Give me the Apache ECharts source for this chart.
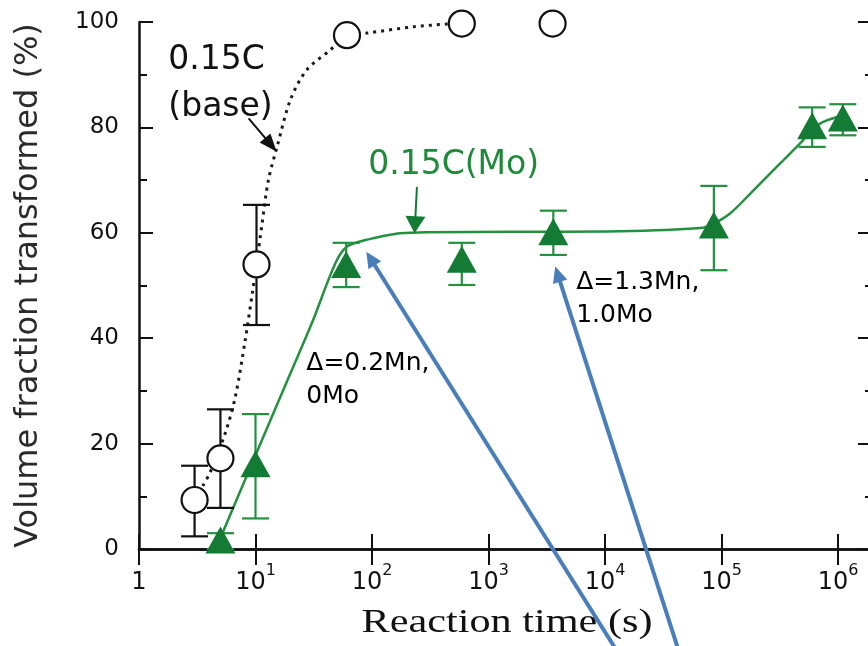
<!DOCTYPE html>
<html>
<head>
<meta charset="utf-8">
<script src="https://cdn.jsdelivr.net/npm/echarts@6/dist/echarts.min.js"></script>
<style>
  html, body { margin: 0; padding: 0; background: #fff; }
  #chart { width: 868px; height: 646px; }
</style>
</head>
<body>
<div id="chart"></div>
<script>
// ---- measured data: 0.15C (base), open circles ----
const baseTime = [3, 5, 10.2, 61, 590, 3550];
const baseFrac = [9.3, 17.2, 54, 97.5, 99.7, 99.7];
const baseErrLow = [2.4, 7.8, 42.5, null, null, null];
const baseErrHigh = [15.8, 26.5, 65.3, null, null, null];

// ---- measured data: 0.15C (Mo), filled triangles ----
const moTime = [5, 10, 60, 590, 3600, 86000, 600000, 1100000];
const moFrac = [1.7, 16.2, 54, 55, 60.2, 61.5, 80.3, 81.8];
const moErrLow = [0, 5.8, 49.7, 50.1, 55.8, 52.9, 76.3, 78.5];
const moErrHigh = [3, 25.6, 58.1, 58.1, 64.2, 68.9, 83.8, 84.4];

// ---- fitted curves ----
const baseFitTime = [3.0, 3.56, 4.09, 5.5, 6.7, 8.17, 9.4, 10.2, 11.4, 12.9, 15.4, 19.9, 27.5, 43.9, 61, 90.6, 228, 441, 590];
const baseFitFrac = [9.3, 12.1, 14.6, 22, 28.8, 39.7, 48.6, 54, 61.8, 70, 76.5, 85.2, 90.9, 94.7, 97.5, 97.9, 99.1, 99.6, 99.7];
const moFitTime = [4.56, 10, 18.8, 31.3, 41.3, 51, 61, 75, 91, 120, 175, 300, 1620, 13500, 66000, 85000, 119000, 189000, 320000, 475000, 600000, 740000, 1110000];
const moFitFrac = [0, 17.8, 32, 43.5, 50.5, 55.2, 57.4, 58.2, 58.7, 59.3, 59.9, 60.1, 60.2, 60.3, 60.9, 61.7, 63.7, 68.1, 73.2, 77, 79.5, 81, 82.3];

// ---- axis ticks ----
const xTickExponents = [0, 1, 2, 3, 4, 5, 6];
const yTicks = [0, 20, 40, 60, 80, 100];

// ---- colours and fonts ----
const GREEN_MARK = '#137b34';
const GREEN_LINE = '#23913f';
const GREEN_TEXT = '#1e8a3a';
const BLUE = '#4a7ebb';
const INK = '#111111';
const SANS = '"DejaVu Sans", "Liberation Sans", sans-serif';

// ---- annotations (anchor points in data units: [time, fraction]) ----
const notes = [
  { text: '0.15C\n(base)', at: [1.785, 88.3], color: INK, size: 33, lh: 47, align: 'left' },
  { text: '0.15C(Mo)', at: [502, 72.7], color: GREEN_TEXT, size: 33, lh: 40, align: 'center' },
  { text: '\u0394=0.2Mn,\n0Mo', at: [27.3, 32], color: '#000', size: 25, lh: 33, align: 'left' },
  { text: '\u0394=1.3Mn,\n1.0Mo', at: [5660, 47.4], color: '#000', size: 25, lh: 33, align: 'left' }
];
const blueArrows = [[14100, -21, 89.4, 56.4], [45400, -21, 3740, 53.6]];
const baseArrow = [[8.73, 81.7, 15.2, 75.4]];
const moArrow = [[243, 68.7, 232, 59.9]];

const zip = (a, b) => a.map((v, i) => [v, b[i]]);
const errRows = (t, lo, hi) => t.map((v, i) => [v, lo[i], hi[i]]).filter(r => r[1] != null);

function errorBarItem(color) {
  return function (params, api) {
    const x = api.value(0);
    const top = api.coord([x, api.value(2)]);
    const bot = api.coord([x, api.value(1)]);
    const half = 13.5;
    const st = { stroke: color, lineWidth: 2.2 };
    return {
      type: 'group',
      children: [
        { type: 'line', shape: { x1: top[0], y1: top[1], x2: bot[0], y2: bot[1] }, style: st },
        { type: 'line', shape: { x1: top[0] - half, y1: top[1], x2: top[0] + half, y2: top[1] }, style: st },
        { type: 'line', shape: { x1: bot[0] - half, y1: bot[1], x2: bot[0] + half, y2: bot[1] }, style: st }
      ]
    };
  };
}

function arrowItem(color, width, headLen, headWid) {
  return function (params, api) {
    const p0 = api.coord([api.value(0), api.value(1)]);
    const p1 = api.coord([api.value(2), api.value(3)]);
    const dx = p1[0] - p0[0], dy = p1[1] - p0[1];
    const len = Math.hypot(dx, dy) || 1;
    const ux = dx / len, uy = dy / len;
    const bx = p1[0] - ux * headLen, by = p1[1] - uy * headLen;
    const nx = -uy * headWid / 2, ny = ux * headWid / 2;
    return {
      type: 'group',
      children: [
        { type: 'line', shape: { x1: p0[0], y1: p0[1], x2: bx + ux, y2: by + uy }, style: { stroke: color, lineWidth: width } },
        { type: 'polygon', shape: { points: [[p1[0], p1[1]], [bx + nx, by + ny], [bx - nx, by - ny]] }, style: { fill: color } }
      ]
    };
  };
}

function noteItem(params, api) {
  const n = notes[params.dataIndex];
  const p = api.coord([api.value(0), api.value(1)]);
  return {
    type: 'text',
    x: p[0], y: p[1],
    style: {
      text: n.text,
      fill: n.color,
      fontSize: n.size,
      fontFamily: SANS,
      lineHeight: n.lh,
      align: n.align,
      verticalAlign: 'middle'
    }
  };
}

function xLabel(v) {
  const e = Math.log10(v);
  const n = Math.round(e);
  if (Math.abs(e - n) > 1e-6 || xTickExponents.indexOf(n) < 0) return '';
  return n === 0 ? '{b|1}' : '{b|10}{s|' + n + '}';
}

const X_MIN = 1, X_MAX = 1.92e6;
const axisLine = { show: true, lineStyle: { color: INK, width: 2.5 } };

const chart = echarts.init(document.getElementById('chart'), null, { renderer: 'canvas' });
chart.setOption({
  animation: false,
  backgroundColor: '#ffffff',
  grid: { left: 139, right: -3, top: 22, bottom: 97, outerBoundsMode: 'none', containLabel: false },
  xAxis: [
    {
      type: 'log', logBase: 10, min: X_MIN, max: X_MAX, position: 'bottom',
      axisLine: axisLine,
      axisTick: { show: true, inside: true, length: 15, lineStyle: { color: INK, width: 2 } },
      splitLine: { show: false },
      axisLabel: {
        show: true, margin: 14, formatter: xLabel, hideOverlap: false,
        rich: {
          b: { fontSize: 24, fontFamily: SANS, color: '#111', lineHeight: 40 },
          s: { fontSize: 16, fontFamily: SANS, color: '#111', verticalAlign: 'top', lineHeight: 40 }
        }
      }
    },
    {
      type: 'log', logBase: 10, min: X_MIN, max: X_MAX, position: 'top',
      axisLine: axisLine,
      axisTick: { show: true, inside: true, length: 16, lineStyle: { color: INK, width: 2 } },
      axisLabel: { show: false },
      splitLine: { show: false }
    }
  ],
  yAxis: [
    {
      type: 'value', min: 0, max: 100, interval: 20, position: 'left',
      name: 'Volume fraction transformed (%)',
      nameLocation: 'middle', nameGap: 94, nameRotate: 90,
      nameTextStyle: { fontSize: 32, fontFamily: SANS, color: '#2a2a2a' },
      axisLine: axisLine,
      axisTick: { show: true, inside: true, length: 14, lineStyle: { color: INK, width: 2 } },
      minorTick: { show: true, splitNumber: 2, length: 8, lineStyle: { color: INK, width: 2 } },
      splitLine: { show: false },
      axisLabel: {
        margin: 20, fontSize: 23, fontFamily: SANS, color: '#111',
        formatter: v => (yTicks.indexOf(v) >= 0 ? String(v) : '')
      }
    },
    {
      type: 'value', min: 0, max: 100, interval: 20, position: 'right',
      axisLine: axisLine,
      axisTick: { show: true, inside: true, length: 13, lineStyle: { color: INK, width: 2 } },
      minorTick: { show: true, splitNumber: 2, length: 6, lineStyle: { color: INK, width: 2 } },
      splitLine: { show: false },
      axisLabel: { show: false }
    }
  ],
  graphic: [
    {
      type: 'text', x: 507, y: 623, scaleX: 1.28, z: 1,
      style: { text: 'Reaction time (s)', fontSize: 33, fontFamily: '"Liberation Serif", "DejaVu Serif", serif', fill: '#111', align: 'center', verticalAlign: 'middle' }
    }
  ],
  series: [
    {
      name: 'base fit', type: 'line', data: zip(baseFitTime, baseFitFrac),
      smooth: 0.3, showSymbol: false, symbol: 'none', z: 2,
      lineStyle: { color: '#1a1a1a', width: 3, type: [3, 5] }
    },
    {
      name: 'Mo fit', type: 'line', data: zip(moFitTime, moFitFrac),
      smooth: 0.3, showSymbol: false, symbol: 'none', z: 2,
      lineStyle: { color: GREEN_LINE, width: 2.5 }
    },
    {
      name: 'base error', type: 'custom', renderItem: errorBarItem(INK), z: 3,
      data: errRows(baseTime, baseErrLow, baseErrHigh), encode: { x: 0, y: [1, 2] }
    },
    {
      name: 'Mo error', type: 'custom', renderItem: errorBarItem(GREEN_LINE), z: 3,
      data: errRows(moTime, moErrLow, moErrHigh), encode: { x: 0, y: [1, 2] }
    },
    {
      name: '0.15C (base)', type: 'scatter', data: zip(baseTime, baseFrac), z: 4,
      symbol: 'circle', symbolSize: 26,
      itemStyle: { color: '#ffffff', borderColor: INK, borderWidth: 2.2, opacity: 1 }
    },
    {
      name: '0.15C (Mo)', type: 'scatter', data: zip(moTime, moFrac), z: 4,
      symbol: 'triangle', symbolSize: [30, 27],
      itemStyle: { color: GREEN_MARK, opacity: 1 }
    },
    {
      name: 'notes', type: 'custom', renderItem: noteItem, z: 5,
      data: notes.map(n => n.at), encode: { x: 0, y: 1 }
    },
    {
      name: 'base arrow', type: 'custom', renderItem: arrowItem(INK, 2, 18, 14), z: 5,
      data: baseArrow, encode: { x: [0, 2], y: [1, 3] }
    },
    {
      name: 'Mo arrow', type: 'custom', renderItem: arrowItem(GREEN_MARK, 2, 17, 20), z: 5,
      data: moArrow, encode: { x: [0, 2], y: [1, 3] }
    },
    {
      name: 'pointers', type: 'custom', renderItem: arrowItem(BLUE, 4, 16, 15), z: 10,
      data: blueArrows, encode: { x: [0, 2], y: [1, 3] }
    }
  ]
});
</script>
</body>
</html>
